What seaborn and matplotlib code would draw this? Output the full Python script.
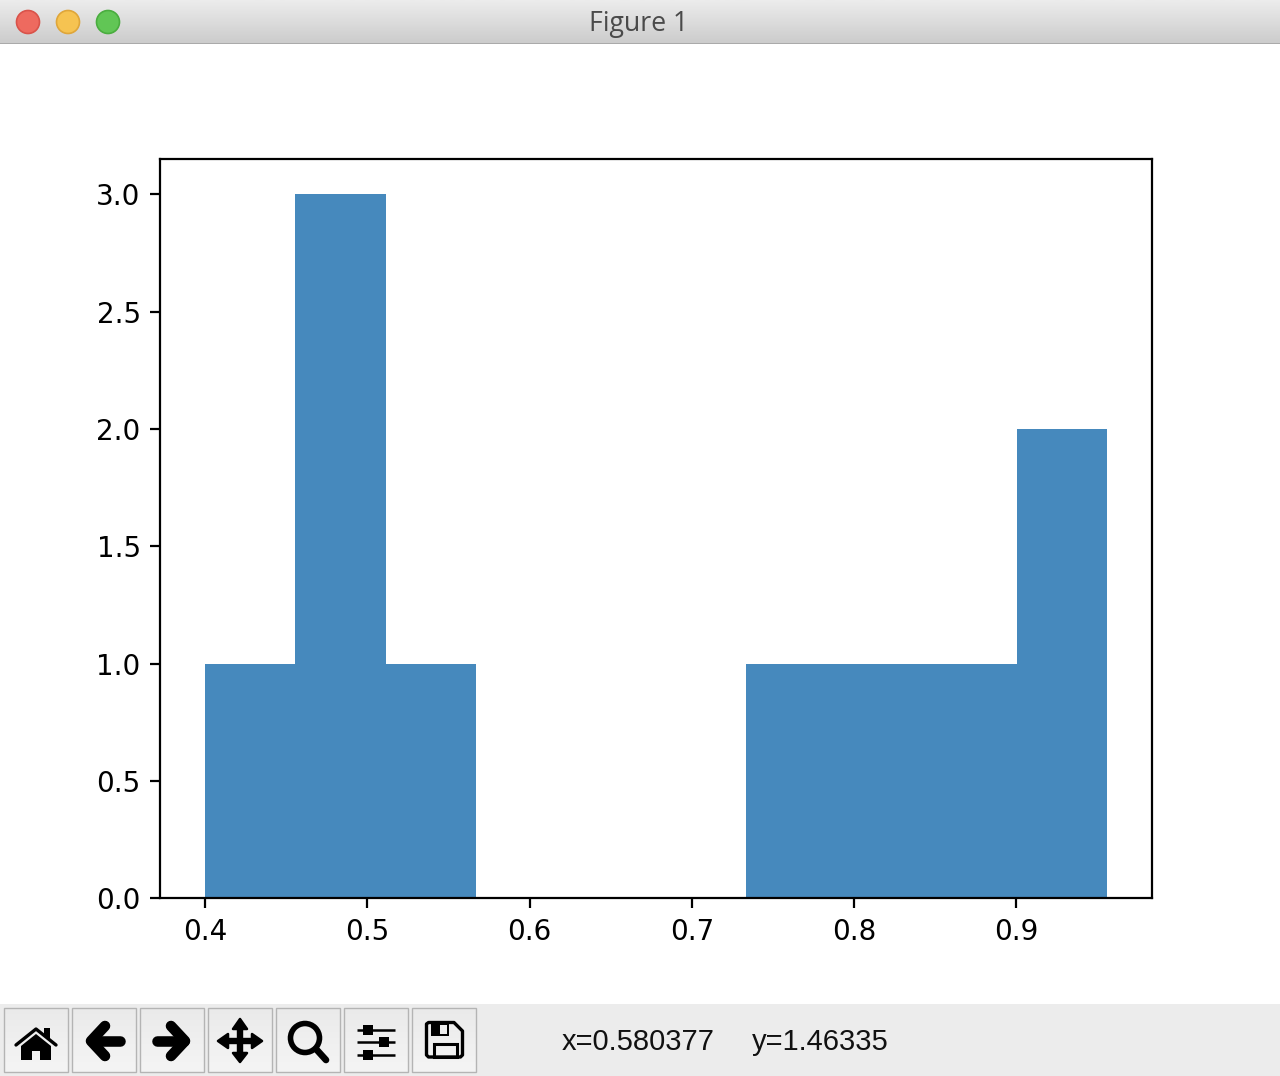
import numpy as np
import pandas as pd
import matplotlib
matplotlib.use("Agg")
import matplotlib.pyplot as plt
from matplotlib.patches import Circle, Rectangle, Polygon
import seaborn as sns

# Histogram sample values (10 bins between 0.40 and 0.956)
sample_values = [0.400, 0.470, 0.480, 0.500, 0.540, 0.750, 0.810, 0.870, 0.930, 0.956]
bin_count = 10
y_ticks = [0.0, 0.5, 1.0, 1.5, 2.0, 2.5, 3.0]
x_ticks = [0.4, 0.5, 0.6, 0.7, 0.8, 0.9]
window_title = "Figure 1"
status_x = "x=0.580377"
status_y = "y=1.46335"

W, H = 1280, 1076
fig = plt.figure(figsize=(W / 200, H / 200), dpi=200, facecolor="white")
ax = fig.add_axes([160.1 / W, 1 - 898.3 / H, (1152 - 160) / W, (898 - 159) / H])

df = pd.DataFrame({"value": sample_values})
sns.histplot(data=df, x="value", bins=bin_count, color="#4689bd", alpha=1.0,
             linewidth=0, ax=ax)
ax.set_xlabel("")
ax.set_ylabel("")
ax.set_xticks(x_ticks)
ax.set_yticks(y_ticks)
ax.set_xlim(0.3722, 0.9838)
ax.set_ylim(0, 3.15)
ax.tick_params(labelsize=10)

# --- window chrome, in pixel coordinates ---
ui = fig.add_axes([0, 0, 1, 1], facecolor="none", zorder=5)
ui.axis("off")

grad = np.linspace(0.925, 0.80, 64).reshape(-1, 1)
ui.imshow(grad, extent=(0, W, 43, 0), cmap="gray", vmin=0, vmax=1, aspect="auto", zorder=1)
ui.set_xlim(0, W)
ui.set_ylim(H, 0)
ui.add_patch(Rectangle((0, 42.5), W, 1.5, color="#aaaaaa", lw=0, zorder=2))
for cx, fc, ec in [(28, "#ee6a5f", "#d9534a"), (68, "#f6c351", "#dfa63a"), (108, "#61c655", "#4aad3f")]:
    ui.add_patch(Circle((cx, 22), 11.5, fc=fc, ec=ec, lw=0.6, zorder=3))
ui.text(639, 24, window_title, ha="center", va="center", fontsize=9.6,
        family="Open Sans", color="#4a4a4a", zorder=3)

ui.add_patch(Rectangle((0, 1004), W, 72, color="#ececec", lw=0, zorder=1))
button_lefts = [4, 72, 140, 208, 276, 344, 412]
btn_grad = np.linspace(0.915, 0.955, 32).reshape(-1, 1)
for left in button_lefts:
    ui.imshow(btn_grad, extent=(left, left + 64, 1072, 1008), cmap="gray", vmin=0, vmax=1,
              aspect="auto", zorder=1.5)
    ui.add_patch(Rectangle((left, 1008), 64, 64, fc="none", ec="#b4b4b4", lw=0.5, zorder=2))
ui.set_xlim(0, W)
ui.set_ylim(H, 0)

def stroke(xs, ys, w=3.6, cap="round"):
    ui.plot(xs, ys, color="black", lw=w, solid_capstyle=cap, solid_joinstyle="round", zorder=3)

def fill(points, fc="black", round_px=0.0):
    ui.add_patch(Polygon(points, closed=True, fc=fc, ec=fc if round_px else "none",
                         lw=round_px / 2.78, joinstyle="round", zorder=3))

# home
fill([(21, 1046), (36, 1034), (51, 1046), (51, 1060), (40, 1060), (40, 1051), (32, 1051), (32, 1060), (21, 1060)])
fill([(44, 1028), (50, 1028), (50, 1040), (44, 1035)])
stroke([16, 36, 56], [1045, 1029, 1045], w=1.2)
# back / forward
stroke([92, 120], [1041, 1041], w=3.8)
stroke([105, 91, 105], [1026, 1041, 1056], w=3.8)
stroke([157, 184], [1041, 1041], w=3.8)
stroke([171, 185, 171], [1026, 1041, 1056], w=3.8)
# move
stroke([240, 240], [1028, 1054], w=2.3, cap="butt")
stroke([227, 253], [1041, 1041], w=2.3, cap="butt")
fill([(240, 1019), (247, 1029), (233, 1029)], round_px=2.5)
fill([(240, 1062), (247, 1053), (233, 1053)], round_px=2.5)
fill([(218, 1041), (228, 1034), (228, 1048)], round_px=2.5)
fill([(262, 1041), (252, 1034), (252, 1048)], round_px=2.5)
# zoom
ui.add_patch(Circle((305, 1038), 14.5, fc="none", ec="black", lw=2.0, zorder=3))
stroke([316, 326], [1049, 1060], w=2.4)
# configure
for y, kx in [(1030, 368), (1042, 384), (1055, 368)]:
    stroke([357, 395], [y, y], w=0.9, cap="butt")
    ui.add_patch(Rectangle((kx - 5, y - 5), 10, 10, fc="black", lw=0, zorder=4))
# save
ui.add_patch(Polygon([(426.5, 1024), (428.5, 1022.5), (454, 1022.5), (462.5, 1031),
                      (462.5, 1055), (460.5, 1057), (428.5, 1057), (426.5, 1055)],
                     closed=True, fc="none", ec="black", lw=1.2, joinstyle="round", zorder=3))
fill([(431, 1023), (449, 1023), (449, 1036), (431, 1036)])
fill([(440, 1025), (447, 1025), (447, 1034), (440, 1034)], fc="#ededed")
ui.add_patch(Rectangle((434, 1044), 23, 13, fc="none", ec="black", lw=1.1, zorder=3))

ui.text(562, 1042, status_x, ha="left", va="center", fontsize=10.5,
        family="Liberation Sans", color="#111111", zorder=3)
ui.text(752, 1042, status_y, ha="left", va="center", fontsize=10.5,
        family="Liberation Sans", color="#111111", zorder=3)

fig.savefig("out.png", dpi=200, facecolor="white")
